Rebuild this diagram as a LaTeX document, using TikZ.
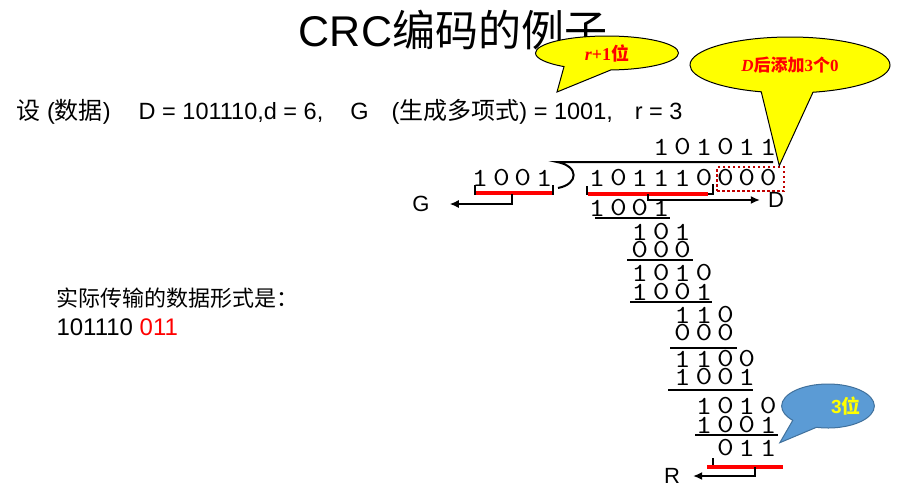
\documentclass[tikz,border=0pt]{standalone}
\usepackage{fontspec}
\setmainfont{Liberation Sans}
\newfontfamily\cjk{Noto Sans CJK SC}
\newfontfamily\serifrm{Liberation Serif}
\usepackage{tikz}
\usetikzlibrary{arrows.meta,positioning,calc,shapes.geometric,shapes.callouts}
\definecolor{noteyellow}{RGB}{255,255,0}
\definecolor{noteblue}{RGB}{91,155,213}
\definecolor{noteblueedge}{RGB}{65,113,156}
\definecolor{markred}{RGB}{255,0,0}
\definecolor{padred}{RGB}{192,0,0}
\newcommand{\bitrow}[4]{% name, x of first digit, y, digits
  \foreach \b [count=\i] in {#4}
    \node[bit] (#1-\i) at ({#2+21.4*(\i-1)},#3) {\b};
}
\newcommand{\zh}[1]{{\cjk\fontsize{24}{24}\selectfont #1}}
\tikzset{
  bit/.style={font=\ttfamily\fontsize{26}{26}\selectfont,inner sep=0pt,xscale=1.25},
  letter/.style={font=\fontsize{22}{22}\selectfont,inner sep=0pt},
  redbar/.style={draw=markred,line width=4pt},
  bracketline/.style={draw=black,line width=1.5pt},
  sumline/.style={draw=black,line width=2.2pt},
  divline/.style={draw=black,line width=2pt},
  outarrow/.style={-{Latex[length=9pt,width=8pt]},line width=1.5pt,draw=black},
  padbox/.style={draw=padred,line width=2.5pt,dash pattern=on 2.5pt off 2.5pt,
    minimum width=67,minimum height=24,inner sep=0pt},
  yellownote/.style={ellipse callout,draw=black,line width=1pt,fill=noteyellow,
    inner sep=0pt,text=markred},
  bluenote/.style={ellipse callout,draw=noteblueedge,line width=1pt,fill=noteblue,
    inner sep=0pt,text=noteyellow}
}
\begin{document}
\begin{tikzpicture}[x=1pt,y=-1pt]
  \fill[white] (0,0) rectangle (907,488);
  \useasboundingbox (0,0) rectangle (907,488);

  \node[anchor=base,font=\fontsize{43}{43}\selectfont] (title) at (453,46)
    {CRC{\cjk 编码的例子}};
  \node[anchor=base west,font=\fontsize{23.5}{23.5}\selectfont] (given) at (13,119)
    {\zh{设} (\zh{数据})\hspace{28pt}D = 101110,d = 6,\hspace{27pt}G\hspace{23pt}(\zh{生成多项式})
     = 1001,\hspace{22pt}r = 3};
  \node[anchor=base west,font=\cjk\fontsize{22}{22}\selectfont] (sent) at (53,306)
    {实际传输的数据形式是：};
  \node[anchor=base west,font=\fontsize{24}{24}\selectfont] (frame) at (53,335)
    {101110 \textcolor{markred}{011}};

  % long division
  \bitrow{q}{661.2}{147}{1,0,1,0,1,1}
  \bitrow{g}{480}{178}{1,0,0,1}
  \bitrow{d}{597}{178}{1,0,1,1,1,0,0,0,0}
  \bitrow{s1}{597}{208}{1,0,0,1}
  \bitrow{s2}{639.8}{232}{1,0,1}
  \bitrow{s3}{639.8}{250}{0,0,0}
  \bitrow{s4}{639.8}{273}{1,0,1,0}
  \bitrow{s5}{639.8}{292}{1,0,0,1}
  \bitrow{s6}{682.6}{315}{1,1,0}
  \bitrow{s7}{682.6}{333}{0,0,0}
  \bitrow{s8}{682.6}{359}{1,1,0,0}
  \bitrow{s9}{682.6}{377}{1,0,0,1}
  \bitrow{s10}{704}{406}{1,0,1,0}
  \bitrow{s11}{704}{425}{1,0,0,1}
  \bitrow{r}{725.4}{448}{0,1,1}

  \draw[divline] (773,162) -- (557,162) .. controls (579,166) and (579,184) .. (558,188);
  \draw[sumline] (595,218) -- (670,218);
  \draw[sumline] (627,260) -- (693,260);
  \draw[sumline] (630,302) -- (712,302);
  \draw[sumline] (670,348) -- (737,348);
  \draw[sumline] (668,390) -- (753,390);
  \draw[sumline] (695,435) -- (778,435);

  \node[padbox] (pad) at (750.5,179) {};

  \node[letter] (G) at (421,204) {G};
  \node[letter] (D) at (776,200) {D};
  \node[letter] (R) at (672,476) {R};
  \coordinate (gtap) at (512,194);
  \coordinate (dtap) at (648,194);
  \coordinate (rtap) at (755,467);

  \draw[bracketline] (475,185) -- (475,194) -- (553,194) -- (553,185);
  \draw[redbar] (476,193) -- (552,193);
  \draw[outarrow,shorten >=20pt] (gtap) |- (G);
  \draw[bracketline] (587,186) -- (587,194) -- (713,194) -- (713,184);
  \draw[redbar] (588,194) -- (708,194);
  \draw[outarrow,shorten >=8pt] (dtap) |- (D);
  \draw[bracketline] (713,458) -- (713,467) -- (783,467);
  \draw[redbar] (707,467) -- (783,467);
  \draw[outarrow,shorten >=13pt] (rtap) |- (R);

  % callouts
  \coordinate (gtip) at (557,92);
  \node[yellownote,minimum width=143,minimum height=34,callout pointer arc=40,
    callout absolute pointer={(gtip)},font=\fontsize{18}{18}\selectfont] (rnote) at (607,53)
    {{\serifrm\bfseries\itshape r}{\serifrm\bfseries +1}{\cjk\bfseries 位}};
  \node[yellownote,minimum width=200,minimum height=56,callout pointer arc=30,
    callout absolute pointer={([xshift=-6pt]pad.north east)},font=\fontsize{17}{17}\selectfont]
    (dnote) at (790,65)
    {{\serifrm\bfseries\itshape D}{\cjk\bfseries 后添加}{\serifrm\bfseries 3}{\cjk\bfseries 个}{\serifrm\bfseries 0}};
  \node[bluenote,minimum width=84,minimum height=44,callout pointer arc=35,
    callout absolute pointer={([xshift=3pt,yshift=-3pt]r-3.north east)},font=\fontsize{19}{19}\selectfont]
    (three) at (828,406)
    {\hspace*{36pt}{\bfseries 3}{\cjk\bfseries 位}};
\end{tikzpicture}
\end{document}
